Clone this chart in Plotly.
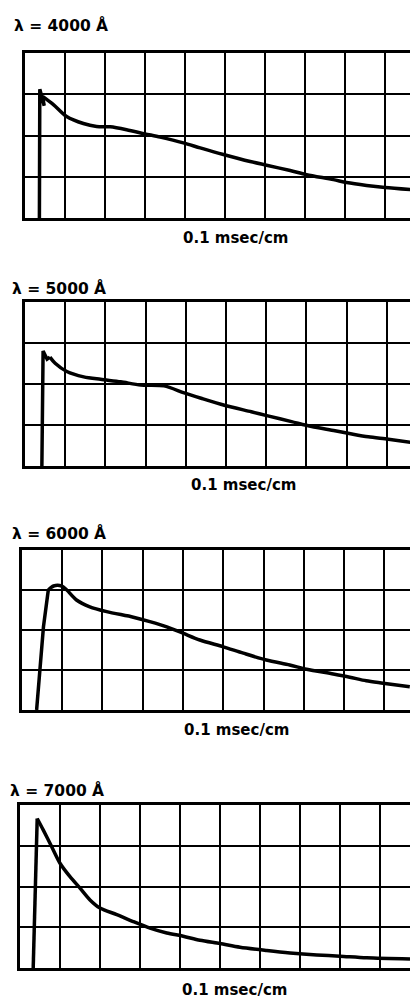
import plotly.graph_objects as go

W, H = 410, 1000

titles = ["λ = 4000 Å", "λ = 5000 Å", "λ = 6000 Å", "λ = 7000 Å"]
xlabel = "0.1 msec/cm"

# rise segments (x in cm divisions, y in cm divisions)
rise1_x = [0.36, 0.37, 0.48, 0.44]
rise1_y = [0.0, 3.12, 2.72, 2.95]
decay1_x = [0.44, 0.71, 1.04, 1.46, 1.79, 2.13, 2.54, 3.0, 3.38, 3.96, 4.38, 4.96, 5.63, 6.04, 6.63, 7.04, 7.71, 8.04, 8.54, 9.0, 9.63]
decay1_y = [2.95, 2.75, 2.46, 2.29, 2.22, 2.21, 2.14, 2.04, 1.96, 1.82, 1.70, 1.54, 1.37, 1.28, 1.15, 1.05, 0.93, 0.86, 0.79, 0.74, 0.69]

rise2_x = [0.42, 0.45, 0.55, 0.62]
rise2_y = [0.0, 2.80, 2.60, 2.65]
decay2_x = [0.62, 0.75, 1.04, 1.46, 1.88, 2.38, 2.88, 3.46, 3.96, 4.38, 4.96, 5.63, 6.04, 6.63, 7.13, 7.71, 8.13, 8.54, 9.04, 9.63]
decay2_y = [2.65, 2.50, 2.30, 2.17, 2.11, 2.05, 1.97, 1.95, 1.78, 1.65, 1.48, 1.32, 1.22, 1.08, 0.96, 0.86, 0.78, 0.71, 0.65, 0.57]

rise3_x = [0.37, 0.54, 0.66]
rise3_y = [0.0, 2.08, 3.0]
decay3_x = [0.66, 0.79, 0.99, 1.12, 1.36, 1.69, 2.11, 2.77, 3.18, 3.6, 4.0, 4.42, 5.0, 5.5, 6.07, 6.65, 7.07, 7.73, 8.14, 8.55, 8.97, 9.63]
decay3_y = [3.0, 3.1, 3.1, 3.0, 2.75, 2.58, 2.46, 2.32, 2.21, 2.08, 1.92, 1.75, 1.58, 1.42, 1.25, 1.125, 1.02, 0.90, 0.82, 0.73, 0.67, 0.58]

rise4_x = [0.33, 0.43]
rise4_y = [0.0, 3.67]
decay4_x = [0.43, 0.58, 0.79, 1.0, 1.25, 1.5, 1.75, 2.0, 2.42, 2.83, 3.25, 3.67, 4.08, 4.5, 5.0, 5.5, 6.17, 6.75, 7.42, 8.0, 8.67, 9.75]
decay4_y = [3.67, 3.39, 2.98, 2.57, 2.24, 1.96, 1.67, 1.47, 1.31, 1.14, 0.98, 0.86, 0.78, 0.68, 0.60, 0.51, 0.43, 0.37, 0.32, 0.29, 0.25, 0.22]

rises = [(rise1_x, rise1_y), (rise2_x, rise2_y), (rise3_x, rise3_y), (rise4_x, rise4_y)]
decays = [(decay1_x, decay1_y), (decay2_x, decay2_y), (decay3_x, decay3_y), (decay4_x, decay4_y)]

# panel pixel geometry: left, top, bottom, px per division (x)
panels = [
    (25.0, 53.0, 218.0, 40.0),
    (25.0, 301.7, 466.0, 40.2),
    (21.7, 550.0, 710.0, 40.3),
    (20.0, 805.0, 968.0, 40.0),
]
title_pos = [(12, 25), (10, 288), (10, 533), (8, 790)]
label_pos = [(236, 238), (243, 485), (237, 730), (235, 990)]

fig = go.Figure()
layout = dict(width=W, height=H, margin=dict(l=0, r=0, t=0, b=0),
              paper_bgcolor="white", plot_bgcolor="white", showlegend=False)

font_title = dict(family="DejaVu Sans", size=15.5, color="black")
font_label = dict(family="DejaVu Sans", size=15, color="black")

annotations = []
for i in range(4):
    left, top, bottom, pxdiv = panels[i]
    xa = "xaxis" if i == 0 else f"xaxis{i+1}"
    ya = "yaxis" if i == 0 else f"yaxis{i+1}"
    xr = "x" if i == 0 else f"x{i+1}"
    yr = "y" if i == 0 else f"y{i+1}"
    xmax = (W - left) / pxdiv
    layout[xa] = dict(domain=[left / W, 1.0], range=[0, xmax], anchor=yr,
                      dtick=1, tick0=0, showgrid=True, gridcolor="black", gridwidth=2,
                      zeroline=False, showline=True, mirror=True, linecolor="black", linewidth=2.5,
                      showticklabels=False, ticks="", fixedrange=True)
    layout[ya] = dict(domain=[1 - bottom / H, 1 - top / H], range=[0, 4], anchor=xr,
                      dtick=1, tick0=0, showgrid=True, gridcolor="black", gridwidth=2,
                      zeroline=False, showline=True, mirror=False, linecolor="black", linewidth=2.5,
                      showticklabels=False, ticks="", fixedrange=True)
    rx, ry = rises[i]
    dx, dy = decays[i]
    fig.add_trace(go.Scatter(x=rx, y=ry, mode="lines", xaxis=xr, yaxis=yr,
                             line=dict(color="black", width=3.5)))
    fig.add_trace(go.Scatter(x=dx, y=dy, mode="lines", xaxis=xr, yaxis=yr,
                             line=dict(color="black", width=3.5, shape="spline", smoothing=0.8)))
    tx, ty = title_pos[i]
    annotations.append(dict(text="<b>" + titles[i] + "</b>", xref="paper", yref="paper",
                            x=tx / W, y=1 - ty / H, xanchor="left", yanchor="middle",
                            showarrow=False, font=font_title))
    lx, ly = label_pos[i]
    annotations.append(dict(text="<b>" + xlabel + "</b>", xref="paper", yref="paper",
                            x=lx / W, y=1 - ly / H, xanchor="center", yanchor="middle",
                            showarrow=False, font=font_label))

layout["annotations"] = annotations
fig.update_layout(**layout)
fig.write_html("out.html")
